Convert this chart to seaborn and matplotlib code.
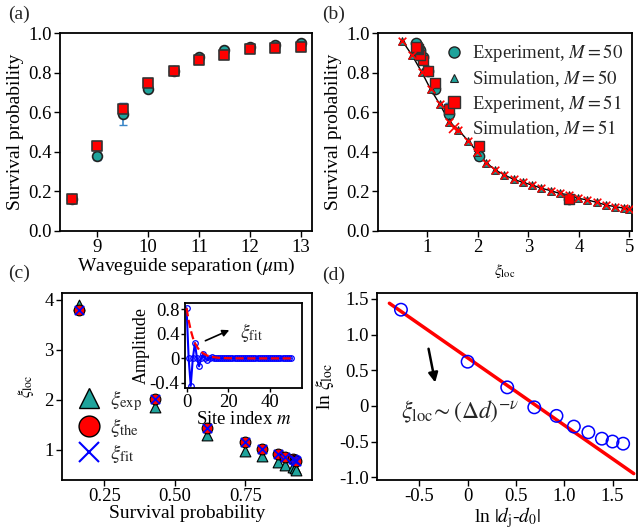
import matplotlib
matplotlib.use("Agg")
import matplotlib.pyplot as plt
from matplotlib.lines import Line2D
import numpy as np
import pandas as pd
import seaborn as sns

# (a) survival probability vs waveguide separation
separation = [8.5, 9.0, 9.5, 10.0, 10.5, 11.0, 11.5, 12.0, 12.5, 13.0]
surv_exp_m50 = [0.16, 0.38, 0.59, 0.72, 0.81, 0.88, 0.915, 0.93, 0.94, 0.95]
err_exp_m50 = [0.01, 0.02, 0.055, 0.015, 0.01, 0.01, 0.01, 0.01, 0.01, 0.01]
surv_exp_m51 = [0.16, 0.43, 0.615, 0.75, 0.81, 0.865, 0.89, 0.92, 0.925, 0.93]
err_exp_m51 = [0.01, 0.015, 0.03, 0.015, 0.01, 0.01, 0.01, 0.01, 0.01, 0.01]

# localization lengths per separation
xi_exp = [3.9, 1.85, 1.3, 0.98, 0.88, 0.75, 0.70, 0.66, 0.63, 0.60]
xi_the = [3.8, 2.02, 1.43, 1.16, 1.02, 0.92, 0.86, 0.82, 0.80, 0.78]
xi_fit = [3.8, 2.02, 1.43, 1.16, 1.02, 0.92, 0.86, 0.82, 0.80, 0.78]

# (b) simulated survival probability vs xi_loc
sim_xi = [0.51, 0.70, 0.89, 1.07, 1.25, 1.44, 1.62, 1.81, 1.99, 2.17, 2.35, 2.53, 2.71,
          2.89, 3.08, 3.26, 3.44, 3.62, 3.81, 3.99, 4.17, 4.35, 4.54, 4.72, 4.90, 4.99]
sim_surv_m50 = [0.961, 0.889, 0.805, 0.716, 0.641, 0.552, 0.510, 0.456, 0.400, 0.345,
                0.308, 0.283, 0.261, 0.246, 0.232, 0.216, 0.204, 0.190, 0.182, 0.165,
                0.157, 0.145, 0.131, 0.123, 0.115, 0.110]
sim_surv_m51 = [0.961, 0.889, 0.805, 0.716, 0.641, 0.552, 0.510, 0.456, 0.400, 0.345,
                0.308, 0.283, 0.261, 0.246, 0.232, 0.216, 0.204, 0.190, 0.182, 0.165,
                0.157, 0.145, 0.131, 0.123, 0.115, 0.110]

# (c) inset: mode amplitude vs site index
site_m = list(range(51))
amplitude = [0.82, 0, -0.45, 0, 0.25, 0, -0.13, 0, 0.07, 0, -0.03, 0, 0.02] + [0] * 38
envelope_m = [0, 1, 2, 3, 4, 5, 6, 8, 10, 12, 15, 20, 30, 40, 50]
envelope_amp = [0.82, 0.62, 0.46, 0.34, 0.25, 0.19, 0.14, 0.08, 0.045, 0.025, 0.01, 0.003, 0, 0, 0]

# (d) scaling
ln_dd = [-0.69, 0.0, 0.41, 0.69, 0.92, 1.10, 1.25, 1.39, 1.50, 1.61]
ln_xi = [1.35, 0.62, 0.26, -0.02, -0.14, -0.29, -0.37, -0.46, -0.50, -0.53]
fit_x = [-0.81, 1.72]
fit_y = [1.44, -0.95]

TEAL = "#1fa39b"
RED = "#ff0000"
ERR = "#3a86c8"

sns.set_theme(style="ticks")
plt.rcParams["font.family"] = ["Liberation Serif", "DejaVu Serif"]
plt.rcParams["mathtext.fontset"] = "stix"
plt.rcParams["font.size"] = 13
plt.rcParams["axes.linewidth"] = 1.3
plt.rcParams["xtick.labelsize"] = 13.5
plt.rcParams["ytick.labelsize"] = 13.5
plt.rcParams["axes.labelsize"] = 14
plt.rcParams["axes.labelcolor"] = "black"
plt.rcParams["xtick.color"] = "black"
plt.rcParams["ytick.color"] = "black"

fig = plt.figure(figsize=(6.42, 5.32), dpi=100)
ax_a = fig.add_axes([0.0935, 0.5658, 0.3925, 0.372])
ax_b = fig.add_axes([0.5888, 0.5658, 0.3956, 0.372])
ax_c = fig.add_axes([0.0966, 0.0977, 0.389, 0.3515])
ax_d = fig.add_axes([0.5877, 0.0977, 0.404, 0.351])
ax_in = fig.add_axes([0.288, 0.270, 0.182, 0.161])

for ax in (ax_a, ax_b, ax_c, ax_d, ax_in):
    ax.tick_params(direction="out", length=4, width=1, pad=2)
    for s in ax.spines.values():
        s.set_color("black")

# ---- (a)
ax_a.errorbar(separation, surv_exp_m50, yerr=err_exp_m50, fmt="none", ecolor=ERR,
              capsize=3, elinewidth=1.2, zorder=2)
ax_a.errorbar(separation, surv_exp_m51, yerr=err_exp_m51, fmt="none", ecolor=ERR,
              capsize=3, elinewidth=1.2, zorder=2)
sns.scatterplot(x=separation, y=surv_exp_m50, ax=ax_a, marker="o", s=50, color=TEAL,
                edgecolor="#222222", linewidth=1.2, zorder=3)
sns.scatterplot(x=separation, y=surv_exp_m51, ax=ax_a, marker="s", s=50, color=RED,
                edgecolor="#333333", linewidth=1.2, zorder=4)
ax_a.set_xlim(8.27, 13.22)
ax_a.set_ylim(0, 1.0)
ax_a.set_xticks([9, 10, 11, 12, 13])
ax_a.set_yticks([0, 0.2, 0.4, 0.6, 0.8, 1.0])
ax_a.set_yticklabels(["0.0", "0.2", "0.4", "0.6", "0.8", "1.0"])
ax_a.set_xlabel(r"Waveguide separation ($\mu$m)", labelpad=0)
ax_a.set_ylabel("Survival probability", labelpad=3)

# ---- (b)
sns.lineplot(x=sim_xi, y=sim_surv_m50, ax=ax_b, color="black", linewidth=1, zorder=2)
ax_b.errorbar(xi_the, surv_exp_m50, yerr=err_exp_m50, fmt="none", ecolor=ERR,
              capsize=3, elinewidth=1.2, zorder=2)
ax_b.errorbar(xi_the, surv_exp_m51, yerr=err_exp_m51, fmt="none", ecolor=ERR,
              capsize=3, elinewidth=1.2, zorder=2)
sns.scatterplot(x=xi_the, y=surv_exp_m50, ax=ax_b, marker="o", s=55, color=TEAL,
                edgecolor="#222222", linewidth=1.0, zorder=3)
sns.scatterplot(x=sim_xi, y=sim_surv_m50, ax=ax_b, marker="^", s=30, color=TEAL,
                edgecolor="#222222", linewidth=0.8, zorder=3)
sns.scatterplot(x=xi_the, y=surv_exp_m51, ax=ax_b, marker="s", s=55, color=RED,
                edgecolor="#333333", linewidth=1.0, zorder=4)
sns.scatterplot(x=sim_xi, y=sim_surv_m51, ax=ax_b, marker="x", s=30, color=RED,
                linewidth=1.2, zorder=5)
handles_b = [
    Line2D([], [], ls="", marker="o", ms=8, mfc=TEAL, mec="#222222", mew=1.0),
    Line2D([], [], ls="", marker="^", ms=6, mfc=TEAL, mec="#222222", mew=0.8),
    Line2D([], [], ls="", marker="s", ms=8, mfc=RED, mec="#333333", mew=1.0),
    Line2D([], [], ls="", marker="x", ms=7, color=RED, mew=1.2),
]
labels_b = [r"Experiment, $M = 50$", r"Simulation, $M = 50$",
            r"Experiment, $M = 51$", r"Simulation, $M = 51$"]
ax_b.legend(handles_b, labels_b, loc="upper right", frameon=False, fontsize=13.5,
            handletextpad=0.2, handlelength=1.5, borderaxespad=0.1, labelspacing=0.2)
ax_b.set_xlim(0.03, 5.05)
ax_b.set_ylim(0, 1.0)
ax_b.set_xticks([1, 2, 3, 4, 5])
ax_b.set_yticks([0, 0.2, 0.4, 0.6, 0.8, 1.0])
ax_b.set_yticklabels(["0.0", "0.2", "0.4", "0.6", "0.8", "1.0"])
ax_b.set_xlabel(r"$\xi_{\rm loc}$", fontsize=11, labelpad=4)
ax_b.set_ylabel("Survival probability", labelpad=3)

# ---- (c)
sns.scatterplot(x=surv_exp_m51, y=xi_exp, ax=ax_c, marker="^", s=60, color=TEAL,
                edgecolor="black", linewidth=0.8, zorder=3)
sns.scatterplot(x=surv_exp_m51, y=xi_the, ax=ax_c, marker="o", s=60, color=RED,
                edgecolor="black", linewidth=0.8, zorder=4)
sns.scatterplot(x=surv_exp_m51, y=xi_fit, ax=ax_c, marker="x", s=45, color="blue",
                linewidth=1.2, zorder=5)
handles_c = [
    Line2D([], [], ls="", marker="^", ms=15, mfc=TEAL, mec="black", mew=1.0),
    Line2D([], [], ls="", marker="o", ms=15, mfc=RED, mec="black", mew=1.0),
    Line2D([], [], ls="", marker="x", ms=14, color="blue", mew=1.5),
]
labels_c = [r"$\xi_{\rm exp}$", r"$\xi_{\rm the}$", r"$\xi_{\rm fit}$"]
ax_c.legend(handles_c, labels_c, loc="lower left", bbox_to_anchor=(0.0, 0.0),
            frameon=False, fontsize=15, handletextpad=0.4, handlelength=1.2,
            labelspacing=0.15, borderaxespad=0.3)
ax_c.set_xlim(0.10, 0.985)
ax_c.set_ylim(0.40, 4.13)
ax_c.set_xticks([0.25, 0.50, 0.75])
ax_c.set_xticklabels(["0.25", "0.50", "0.75"])
ax_c.set_yticks([1, 2, 3, 4])
ax_c.set_xlabel("Survival probability", labelpad=0)
ax_c.set_ylabel(r"$\xi_{\rm loc}$", fontsize=12, labelpad=6)

# inset
sns.lineplot(x=site_m, y=amplitude, ax=ax_in, color="blue", linewidth=1.5, marker="o",
             markersize=4, markerfacecolor="none", markeredgecolor="blue",
             markeredgewidth=0.9, zorder=2)
sns.lineplot(x=envelope_m, y=envelope_amp, ax=ax_in, color=RED, linewidth=1.6,
             linestyle="--", zorder=3)
ax_in.annotate("", xy=(21.7, 0.48), xytext=(7.8, 0.27),
               arrowprops=dict(arrowstyle="-|>", color="black", lw=1.2, mutation_scale=10))
ax_in.text(25.5, 0.42, r"$\xi_{\rm fit}$", fontsize=14, va="center")
ax_in.set_xlim(-0.8, 55.2)
ax_in.set_ylim(-0.49, 0.91)
ax_in.set_xticks([0, 20, 40])
ax_in.set_yticks([0.8, 0.4, 0, -0.4])
ax_in.set_yticklabels(["0.8", "0.4", "0", "-0.4"])
ax_in.tick_params(labelsize=13.5, length=3, pad=1)
ax_in.set_xlabel(r"Site index $m$", fontsize=13.5, labelpad=0)
ax_in.set_ylabel("Amplitude", fontsize=13, labelpad=0)

# ---- (d)
sns.lineplot(x=fit_x, y=fit_y, ax=ax_d, color=RED, linewidth=2.5, zorder=2)
sns.scatterplot(x=ln_dd, y=ln_xi, ax=ax_d, marker="o", s=80, facecolors="none",
                edgecolor="blue", linewidth=1.1, zorder=3)
ax_d.annotate("", xy=(-0.33, 0.29), xytext=(-0.41, 0.84),
              arrowprops=dict(arrowstyle="-|>", color="black", lw=1.8, mutation_scale=14))
ax_d.text(-0.69, -0.09, r"$\xi_{\rm loc}\!\sim(\Delta d)^{-\nu}$", fontsize=17, va="center")
ax_d.set_xlim(-0.935, 1.75)
ax_d.set_ylim(-1.04, 1.58)
ax_d.set_xticks([-0.5, 0, 0.5, 1.0, 1.5])
ax_d.set_xticklabels(["-0.5", "0", "0.5", "1.0", "1.5"])
ax_d.set_yticks([-1.0, -0.5, 0, 0.5, 1.0, 1.5])
ax_d.set_yticklabels(["-1.0", "-0.5", "0", "0.5", "1.0", "1.5"])
ax_d.set_xlabel(r"ln $|d_{\rm j}$-$d_0|$", labelpad=0)
ax_d.set_ylabel(r"ln $\xi_{\rm loc}$", labelpad=2)

# panel labels
for txt, x, y in [("(a)", 0.012, 0.973), ("(b)", 0.502, 0.973),
                  ("(c)", 0.012, 0.487), ("(d)", 0.502, 0.483)]:
    fig.text(x, y, txt, fontsize=14, va="center", ha="left")

fig.savefig("out.png", dpi=100)
